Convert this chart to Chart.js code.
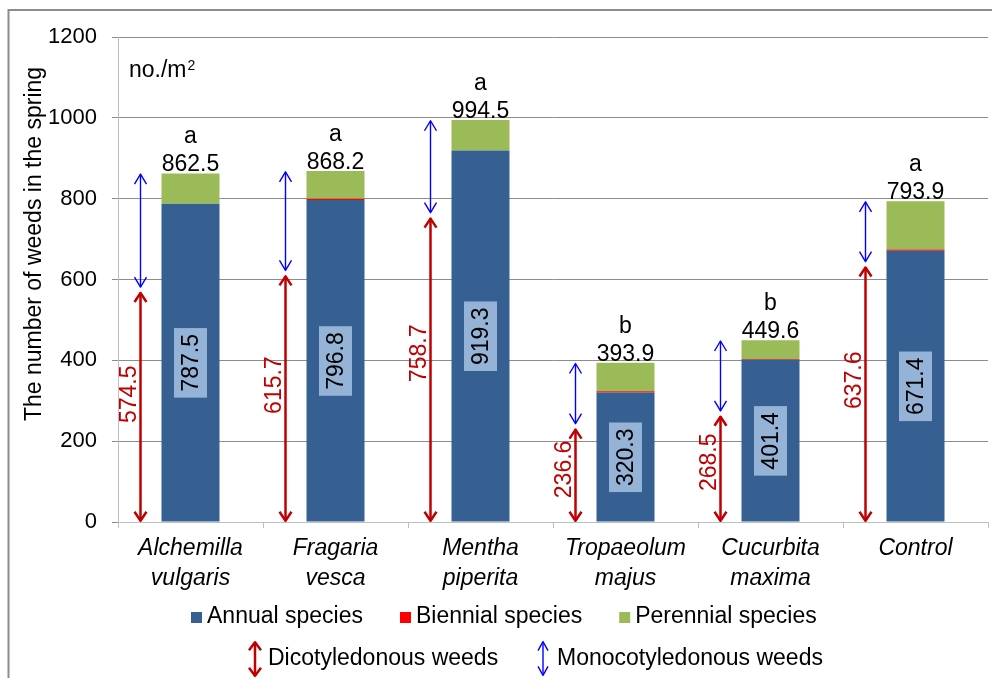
<!DOCTYPE html>
<html>
<head>
<meta charset="utf-8">
<script src="https://cdn.jsdelivr.net/npm/chart.js@4/dist/chart.umd.min.js"></script>
<style>
html, body { margin: 0; padding: 0; background: #fff; }
#wrap { width: 992px; height: 678px; position: relative; }
</style>
</head>
<body>
<div id="wrap"><canvas id="chart"></canvas></div>
<script>
// data
var categories = [["Alchemilla", "vulgaris"], ["Fragaria", "vesca"], ["Mentha", "piperita"], ["Tropaeolum", "majus"], ["Cucurbita", "maxima"], ["Control"]];
var annual = [787.5, 796.8, 919.3, 320.3, 401.4, 671.4];
var biennial = [0, 3.0, 0, 3.0, 2.0, 3.0];
var perennial = [75.0, 68.4, 75.2, 70.6, 46.2, 119.5];
var totals = [862.5, 868.2, 994.5, 393.9, 449.6, 793.9];
var letters = ["a", "a", "a", "b", "b", "a"];
var dicot = [574.5, 615.7, 758.7, 236.6, 268.5, 637.6];
var yMin = 0, yMax = 1200, yStep = 200;

var FONT = "'Liberation Sans', Arial, sans-serif";
var FS = 23;
var BLUE = '#376092', RED = '#FF0000', GREEN = '#9BBB59';
var DARKRED = '#C00000', ARROWBLUE = '#0000FF';

function head(ctx, x, y, dir, w, l) {
    ctx.beginPath();
    ctx.moveTo(x - w, y + dir * l);
    ctx.lineTo(x, y);
    ctx.lineTo(x + w, y + dir * l);
    ctx.stroke();
}
function dblArrow(ctx, x, yTop, yBot, color, lw, w, l) {
    ctx.save();
    ctx.strokeStyle = color;
    ctx.lineWidth = lw;
    ctx.lineJoin = 'round';
    ctx.beginPath();
    ctx.moveTo(x, yTop + 1);
    ctx.lineTo(x, yBot - 1);
    ctx.stroke();
    head(ctx, x, yTop + lw / 2, 1, w, l);
    head(ctx, x, yBot - lw / 2, -1, w, l);
    ctx.restore();
}

var annotate = {
    id: 'annotate',
    beforeDraw: function(chart) {
        var ctx = chart.ctx;
        ctx.save();
        ctx.strokeStyle = '#8C8C8C';
        ctx.lineWidth = 2;
        ctx.beginPath();
        ctx.moveTo(8.5, 678);
        ctx.lineTo(8.5, 10);
        ctx.lineTo(992, 10);
        ctx.stroke();
        ctx.restore();
    },
    afterDatasetsDraw: function(chart) {
        var ctx = chart.ctx;
        var xs = chart.scales.x, ys = chart.scales.y;
        ctx.save();
        ctx.font = FS + 'px ' + FONT;
        for (let i = 0; i < categories.length; i++) {
            var cx = xs.getPixelForValue(i);
            var ax = cx - 50;
            var y0 = ys.getPixelForValue(0);
            var yd = ys.getPixelForValue(dicot[i]);
            var yt = ys.getPixelForValue(totals[i]);

            // arrows
            dblArrow(ctx, ax, yd + 2, y0, DARKRED, 2.5, 6, 9);
            dblArrow(ctx, ax, yt, yd - 2, ARROWBLUE, 1.4, 6, 10);

            // dicot label
            ctx.save();
            ctx.translate(ax - 11, ys.getPixelForValue(dicot[i] * 0.55));
            ctx.rotate(-Math.PI / 2);
            ctx.fillStyle = DARKRED;
            ctx.textAlign = 'center';
            ctx.textBaseline = 'middle';
            ctx.fillText(dicot[i].toFixed(1), 0, 0);
            ctx.restore();

            // totals + letters
            ctx.fillStyle = '#000';
            ctx.textAlign = 'center';
            ctx.textBaseline = 'alphabetic';
            ctx.fillText(totals[i].toFixed(1), cx, yt - 2);
            ctx.fillText(letters[i], cx, yt - 30);

            // annual label in box
            var txt = annual[i].toFixed(1);
            var tw = ctx.measureText(txt).width;
            var by = ys.getPixelForValue(annual[i] / 2);
            ctx.fillStyle = '#95B3D7';
            ctx.fillRect(cx - 16.5, by - (tw + 12) / 2, 33, tw + 12);
            ctx.save();
            ctx.translate(cx, by);
            ctx.rotate(-Math.PI / 2);
            ctx.fillStyle = '#000';
            ctx.textBaseline = 'middle';
            ctx.fillText(txt, 0, 1);
            ctx.restore();
        }
        ctx.restore();
    },
    afterDraw: function(chart) {
        var ctx = chart.ctx;
        ctx.save();
        ctx.font = FS + 'px ' + FONT;
        ctx.fillStyle = '#000';
        ctx.textBaseline = 'middle';

        // y axis title
        ctx.save();
        ctx.translate(35, 244);
        ctx.rotate(-Math.PI / 2);
        ctx.textAlign = 'center';
        ctx.fillText('The number of weeds in the spring', 0, 0);
        ctx.restore();

        // unit
        ctx.textBaseline = 'alphabetic';
        ctx.fillText('no./m', 129, 77);
        var w = ctx.measureText('no./m').width;
        ctx.font = '14px ' + FONT;
        ctx.fillText('2', 129 + w + 1, 70);

        // legend row 1
        ctx.font = FS + 'px ' + FONT;
        ctx.textBaseline = 'middle';
        var items = [['Annual species', BLUE], ['Biennial species', RED], ['Perennial species', GREEN]];
        var x = 191, y = 617;
        items.forEach(function(it) {
            ctx.fillStyle = it[1];
            ctx.fillRect(x, y - 5, 11, 11);
            ctx.fillStyle = '#000';
            ctx.fillText(it[0], x + 16, y);
            x += 16 + ctx.measureText(it[0]).width + 37;
        });

        // legend row 2
        y = 659;
        dblArrow(ctx, 255, 641, 677, DARKRED, 2.5, 6, 8);
        ctx.fillStyle = '#000';
        ctx.fillText('Dicotyledonous weeds', 268, y);
        dblArrow(ctx, 543, 641, 676, ARROWBLUE, 1.4, 5, 9);
        ctx.fillText('Monocotyledonous weeds', 557, y);
        ctx.restore();
    }
};

var ctx = document.getElementById('chart').getContext('2d');
var myChart = new Chart(ctx, {
    type: 'bar',
    data: {
        labels: categories,
        datasets: [
            { label: 'Annual species', data: annual, backgroundColor: BLUE },
            { label: 'Biennial species', data: biennial, backgroundColor: RED },
            { label: 'Perennial species', data: perennial, backgroundColor: GREEN },
        ],
    },
    options: {
        responsive: true,
        maintainAspectRatio: false,
        animation: false,
        datasets: {
            bar: { categoryPercentage: 0.8, barPercentage: 0.5 },
        },
        layout: { padding: { top: 37, right: 4, left: 0, bottom: 0 } },
        plugins: {
            legend: { display: false },
            tooltip: { enabled: false },
        },
        scales: {
            x: {
                stacked: true,
                grid: { drawOnChartArea: false, tickLength: 6, color: '#BFBFBF', offset: true },
                border: { color: '#BFBFBF' },
                ticks: {
                    color: '#000',
                    padding: 6,
                    maxRotation: 0,
                    font: { family: FONT, size: FS, style: 'italic', lineHeight: 1.3 },
                },
                afterFit: function(scale) { scale.height = 156; },
            },
            y: {
                stacked: true,
                min: yMin,
                max: yMax,
                ticks: {
                    stepSize: yStep,
                    color: '#000',
                    padding: 15,
                    font: { family: FONT, size: 22 },
                    callback: function(v) { return String(v); },
                },
                grid: { color: '#8C8C8C', tickLength: 6 },
                border: { color: '#BFBFBF' },
                afterFit: function(scale) { scale.width = 118; },
            },
        },
    },
    plugins: [annotate],
});
</script>
</body>
</html>
